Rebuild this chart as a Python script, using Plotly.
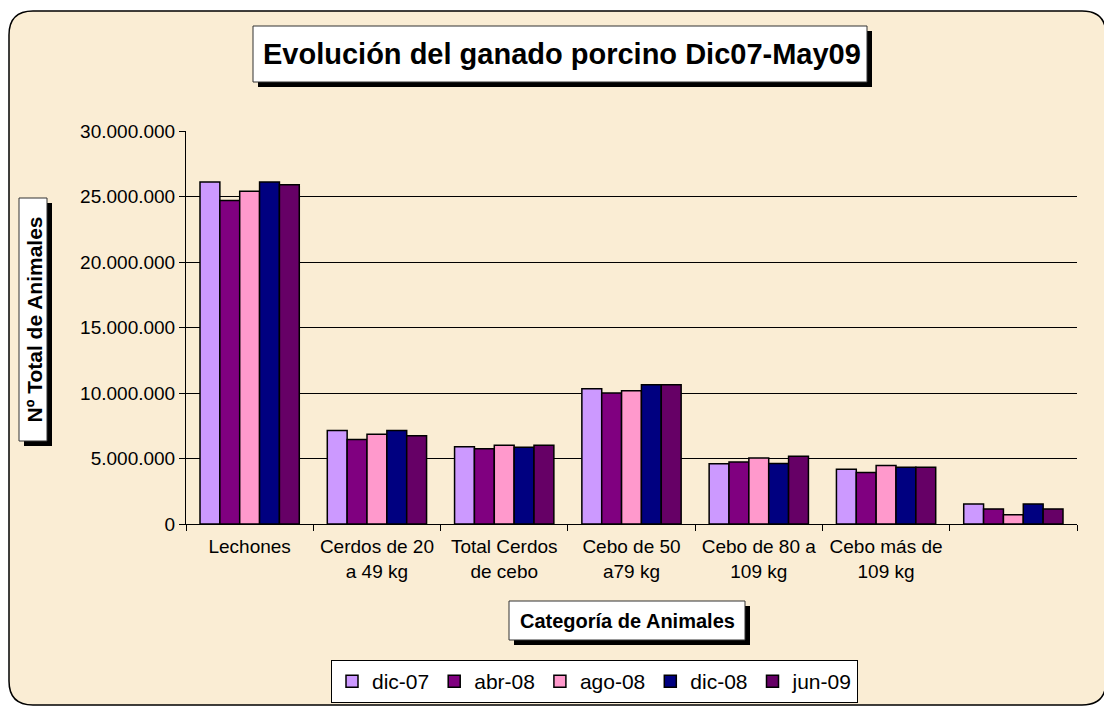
import plotly.graph_objects as go

categories = ["Lechones", "Cerdos de 20<br>a 49 kg", "Total Cerdos<br>de cebo",
              "Cebo de 50<br>a79 kg", "Cebo de 80 a<br>109 kg", "Cebo más de<br>109 kg", " "]
series_names = ["dic-07", "abr-08", "ago-08", "dic-08", "jun-09"]
dic07 = [26100000, 7140000, 5890000, 10330000, 4590000, 4180000, 1530000]
abr08 = [24700000, 6450000, 5740000, 10000000, 4740000, 3930000, 1150000]
ago08 = [25400000, 6860000, 6020000, 10180000, 5030000, 4460000, 710000]
dic08 = [26100000, 7140000, 5850000, 10630000, 4620000, 4340000, 1530000]
jun09 = [25900000, 6730000, 6020000, 10630000, 5180000, 4340000, 1150000]
colors = ["#CC99FF", "#800080", "#FF99CC", "#000080", "#660066"]
y_ticks = [0, 5000000, 10000000, 15000000, 20000000, 25000000, 30000000]

W, H = 1112, 709
OFF = 8  # default page body margin
L, R, T, B = 186, 1077, 131, 524


def px(x):
    return (x - L) / (R - L)


def py(y):
    return (B - y) / (B - T)


fig = go.Figure()
for name, vals, col in zip(series_names, [dic07, abr08, ago08, dic08, jun09], colors):
    fig.add_trace(go.Bar(x=categories, y=vals, name=name,
                         marker=dict(color=col, line=dict(color="black", width=1.5))))

shapes = []
# rounded parchment frame
x0, y0, x1, y1, r = 9, 11, 1106, 705, 24
path = (f"M {px(x0+r)},{py(y0)} L {px(x1-r)},{py(y0)} Q {px(x1)},{py(y0)} {px(x1)},{py(y0+r)} "
        f"L {px(x1)},{py(y1-r)} Q {px(x1)},{py(y1)} {px(x1-r)},{py(y1)} "
        f"L {px(x0+r)},{py(y1)} Q {px(x0)},{py(y1)} {px(x0)},{py(y1-r)} "
        f"L {px(x0)},{py(y0+r)} Q {px(x0)},{py(y0)} {px(x0+r)},{py(y0)} Z")
shapes.append(dict(type="path", path=path, xref="paper", yref="paper",
                   fillcolor="#FAEDD4", line=dict(color="black", width=1.5), layer="below"))


def box(xa, ya, xb, yb, sh=5):
    shapes.append(dict(type="rect", xref="paper", yref="paper",
                       x0=px(xa + sh), y0=py(ya + sh), x1=px(xb + sh), y1=py(yb + sh),
                       fillcolor="black", line=dict(width=0), layer="below"))
    shapes.append(dict(type="rect", xref="paper", yref="paper",
                       x0=px(xa), y0=py(ya), x1=px(xb), y1=py(yb),
                       fillcolor="white", line=dict(color="#333333", width=1), layer="below"))


box(253, 26, 867, 82, sh=5)
box(19, 198, 47, 441, sh=5)
box(509, 601, 745, 640, sh=5)

annotations = [
    dict(text="<b>Evolución del ganado porcino Dic07-May09</b>", x=px(562), y=py(54),
         xref="paper", yref="paper", showarrow=False, xanchor="center", yanchor="middle",
         font=dict(family="Liberation Sans, Arial", size=29, color="black")),
    dict(text="<b>Nº Total de Animales</b>", x=px(33.5), y=py(320), textangle=-90,
         xref="paper", yref="paper", showarrow=False, xanchor="center", yanchor="middle",
         font=dict(family="Liberation Sans, Arial", size=21, color="black")),
    dict(text="<b>Categoría de Animales</b>", x=px(627), y=py(621),
         xref="paper", yref="paper", showarrow=False, xanchor="center", yanchor="middle",
         font=dict(family="Liberation Sans, Arial", size=20, color="black")),
]

fig.update_layout(
    width=W - OFF, height=H - OFF,
    margin=dict(l=L - OFF, r=W - R, t=T - OFF, b=H - B, autoexpand=False),
    paper_bgcolor="white", plot_bgcolor="white",
    separators=",.",
    barmode="group", bargap=0.22, bargroupgap=0,
    font=dict(family="Liberation Sans, Arial", size=19, color="black"),
    shapes=shapes, annotations=annotations,
    legend=dict(orientation="h", x=px(331), y=py(660), xanchor="left", yanchor="top",
                bgcolor="white", bordercolor="black", borderwidth=1,
                font=dict(size=21), itemwidth=30, tracegroupgap=0),
    xaxis=dict(type="category", tickson="boundaries", ticks="outside", ticklen=6,
               tickcolor="black", showline=True, linecolor="black", linewidth=1,
               showgrid=False, tickfont=dict(size=19), ticklabelstandoff=5),
    yaxis=dict(range=[0, 30000000], tickvals=y_ticks, tickformat=",d",
               ticks="outside", ticklen=6, tickcolor="black",
               showline=True, linecolor="black", linewidth=1,
               showgrid=True, gridcolor="black", gridwidth=1,
               tickfont=dict(size=19), zeroline=False),
)

fig.write_html("out.html")
